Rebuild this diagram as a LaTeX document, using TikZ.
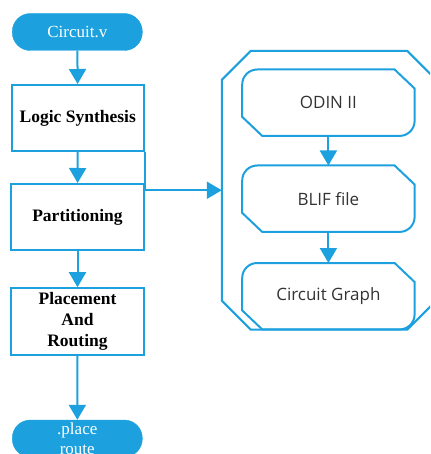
\documentclass[tikz,border=0pt]{standalone}
\usepackage{fontspec}
\setmainfont{Liberation Serif}
\newfontfamily\boxsans{Open Sans}
\usetikzlibrary{arrows.meta,calc}
\definecolor{flowblue}{RGB}{29,161,222}
\definecolor{txtgray}{RGB}{51,51,51}
\begin{document}
\begin{tikzpicture}[x=1pt,y=-1pt,
  line/.style={draw=flowblue, line width=2pt},
  arr/.style={line, -{Triangle[length=15pt,width=17pt]}},
  pill/.style={fill=flowblue, draw=flowblue, rounded corners=18pt, minimum width=130pt, minimum height=37pt, text=white, font=\fontsize{17}{19.5}\selectfont, align=center, inner sep=0pt},
  stepbox/.style={line, fill=white, minimum width=133pt, minimum height=66pt, font=\fontsize{17.5}{21}\selectfont\bfseries, align=center, inner sep=0pt},
  inbox/.style={minimum width=172pt, minimum height=66pt, inner sep=0pt, text=txtgray, font=\boxsans\fontsize{17}{20}\selectfont},
  ]
\useasboundingbox (0,0) rectangle (430,454);
\clip (0,0) rectangle (430,454);

% left column
\node[pill] (src) at (77.3,32) {Circuit.v};
\node[stepbox, minimum width=132pt] (logic) at (77.8,118) {Logic Synthesis};
\node[stepbox] (part) at (77.5,217) {Partitioning};
\node[stepbox, minimum height=67pt] (place) at (77.5,321.7) {Placement\\And\\Routing};
\node[pill] (dst) at (77.3,438.5) {.place\\route};

\draw[arr] (src) -- (logic);
\draw[arr] (logic) -- (part);
\draw[arr] (part) -- (place);
\draw[arr] (place) -- (dst);

% right group
\node[minimum width=214pt, minimum height=278.5pt, inner sep=0pt] (grp) at (329,190.25) {};
\draw[line] ($(grp.north west)+(0,29)$) -- ($(grp.north west)+(29,0)$) -- ($(grp.north east)+(-29,0)$) -- ($(grp.north east)+(0,29)$) -- ($(grp.south east)+(0,-29)$) -- ($(grp.south east)+(-29,0)$) -- ($(grp.south west)+(29,0)$) -- ($(grp.south west)+(0,-29)$) -- cycle;

\node[inbox] (odin) at (328.4,102.7) {ODIN II};
\node[inbox] (blif) at (328.4,198.7) {BLIF file};
\node[inbox] (cg) at (328.4,296.2) {Circuit Graph};

\foreach \n in {odin,blif,cg}
  \draw[line] ($(\n.south west)+(0,-19)$) -- ($(\n.north west)+(0,15)$) arc[start angle=180,end angle=90,radius=15pt] -- ($(\n.north east)+(-20,0)$) -- ($(\n.north east)+(0,19)$) -- ($(\n.south east)+(0,-15)$) arc[start angle=0,end angle=-90,radius=15pt] -- ($(\n.south west)+(20,0)$) -- cycle;

\draw[arr] (odin) -- (blif);
\draw[arr] (blif) -- (cg);

\draw[arr] (logic.south east) |- (grp.west);
\end{tikzpicture}
\end{document}
